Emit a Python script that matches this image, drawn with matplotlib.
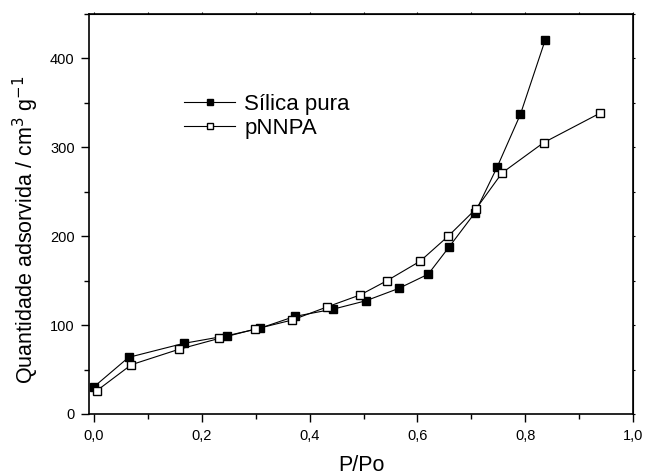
import matplotlib
matplotlib.use("Agg")
import matplotlib.pyplot as plt
from matplotlib.ticker import MultipleLocator, FormatStrFormatter, FuncFormatter

silica_x = [0.000, 0.064, 0.166, 0.246, 0.307, 0.372, 0.444, 0.504, 0.565, 0.620, 0.658, 0.707, 0.748, 0.791, 0.837]
silica_y = [30.7, 63.7, 79.4, 88.0, 96.3, 109.7, 118.0, 127.3, 141.2, 157.3, 187.3, 226.6, 277.9, 337.0, 420.6]
pnnpa_x = [0.005, 0.069, 0.157, 0.232, 0.299, 0.367, 0.433, 0.494, 0.543, 0.605, 0.657, 0.709, 0.757, 0.834, 0.938]
pnnpa_y = [26.2, 55.4, 72.7, 85.0, 95.5, 105.6, 120.6, 134.0, 149.8, 171.9, 200.0, 231.0, 271.2, 305.2, 338.2]

plt.rcParams['font.family'] = ['Liberation Sans', 'DejaVu Sans']

fig = plt.figure(figsize=(6.45, 4.76), dpi=100)
ax = fig.add_axes([0.1384, 0.1303, 0.8430, 0.8403])

ax.plot(silica_x, silica_y, '-s', color='black', lw=0.8, ms=5.5, mfc='black', mec='black', label='Sílica pura')
ax.plot(pnnpa_x, pnnpa_y, '-s', color='black', lw=0.8, ms=5.5, mfc='white', mec='black', label='pNNPA')

ax.set_xlim(-0.009, 1.0)
ax.set_ylim(0, 450)
ax.xaxis.set_major_locator(MultipleLocator(0.2))
ax.xaxis.set_minor_locator(MultipleLocator(0.1))
ax.yaxis.set_major_locator(MultipleLocator(100))
ax.yaxis.set_minor_locator(MultipleLocator(50))
ax.xaxis.set_major_formatter(FuncFormatter(lambda v, p: f"{v:.1f}".replace('.', ',')))
ax.yaxis.set_major_formatter(FormatStrFormatter('%d'))

ax.tick_params(which='both', direction='out', top=False, right=False, width=1.0)
ax.tick_params(which='major', length=6, labelsize=10.5, pad=4.5)
ax.tick_params(which='minor', length=3.5)

ax2 = ax.secondary_xaxis('top')
ax2.xaxis.set_major_locator(MultipleLocator(0.2))
ax2.xaxis.set_minor_locator(MultipleLocator(0.1))
ax2.tick_params(which='both', direction='out', labeltop=False, length=1.5, width=0.8)
ax3 = ax.secondary_yaxis('right')
ax3.yaxis.set_major_locator(MultipleLocator(100))
ax3.yaxis.set_minor_locator(MultipleLocator(50))
ax3.tick_params(which='both', direction='out', labelright=False, length=1.5, width=0.8)

for s in ax.spines.values():
    s.set_linewidth(1.2)

ax.set_xlabel('P/Po', fontsize=15.5, labelpad=9)
ax.set_ylabel('Quantidade adsorvida / cm$^3$ g$^{-1}$', fontsize=15.5)
ax.yaxis.set_label_coords(-0.088, 0.46)

ax.legend(loc='upper left', bbox_to_anchor=(0.158, 0.8225), frameon=False, fontsize=16,
          handlelength=2.3, markerscale=0.85, labelspacing=0.15, handletextpad=0.4,
          borderaxespad=0)

fig.savefig('out.png', dpi=100)
